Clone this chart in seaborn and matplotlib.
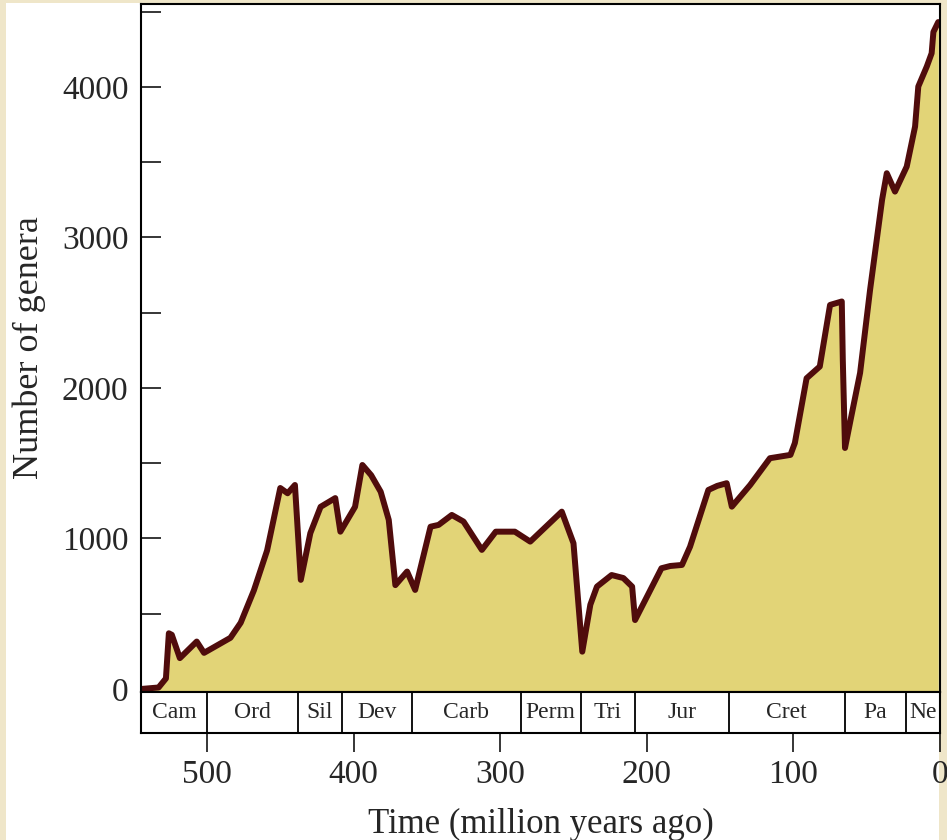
import matplotlib
matplotlib.use("Agg")
import matplotlib.pyplot as plt
from matplotlib.patches import Rectangle
from matplotlib.ticker import FixedLocator
import pandas as pd
import seaborn as sns

# genera through time
time_ma = [545, 533, 528, 526, 524, 518.5, 507, 502, 484, 477, 468, 459, 450, 445,
           440, 436, 429.5, 422.5, 412.5, 409, 399, 394, 388, 381.5, 376, 371.5,
           363.5, 358, 347.5, 342, 333, 325, 312.5, 303, 290, 279.5, 258, 250, 244,
           238.5, 234, 224, 216, 210, 208, 190, 184, 176, 170.5, 158, 152, 145.5,
           142, 129.5, 116, 102, 99, 91, 82, 75, 67, 66.3, 64.8, 61, 54.5, 47.7,
           39.5, 36.3, 30.7, 22.7, 17, 14.8, 9, 5.7, 4.5, 1.2]
genera = [0, 10, 70, 370, 360, 205, 315, 240, 340, 440, 655, 920, 1335, 1300,
          1355, 725, 1035, 1210, 1268, 1045, 1210, 1488, 1420, 1310, 1123, 690,
          780, 658, 1078, 1090, 1156, 1112, 924, 1045, 1045, 979, 1178, 968, 248,
          560, 680, 757, 737, 680, 458, 802, 817, 824, 945, 1322, 1349, 1367,
          1211, 1355, 1533, 1555, 1634, 2064, 2142, 2551, 2574, 2186, 1601, 1787,
          2100, 2651, 3250, 3426, 3304, 3470, 3736, 4002, 4135, 4223, 4364, 4430]

period_names = ["Cam", "Ord", "Sil", "Dev", "Carb", "Perm", "Tri", "Jur", "Cret", "Pa", "Ne"]
period_bounds = [545, 500, 438, 408, 360, 286, 245, 208, 144, 65, 23, 0]
x_ticks = [500, 400, 300, 200, 100, 0]
y_major = [0, 1000, 2000, 3000, 4000]
y_minor = [500, 1500, 2500, 3500, 4500]

FILL = "#e2d477"
LINE = "#500c0c"
W, H = 947, 840

sns.set_theme(style="white")
plt.rcParams["font.family"] = ["Liberation Serif", "DejaVu Serif"]

df = pd.DataFrame({"time": time_ma, "genera": genera})

fig = plt.figure(figsize=(W / 100, H / 100), dpi=100, facecolor="#efe6c9")
fig.add_artist(Rectangle((6 / W, 0), (939 - 6) / W, (H - 3) / H, transform=fig.transFigure,
                         facecolor="white", edgecolor="none", zorder=-1))

ax = fig.add_axes([141 / W, 148 / H, 799 / W, 688 / H])
bax = fig.add_axes([141 / W, 107 / H, 799 / W, 41 / H])

ax.fill_between(df["time"], df["genera"], -20, color=FILL, lw=0)
sns.lineplot(data=df, x="time", y="genera", ax=ax, color=LINE, lw=4.3,
             sort=False, estimator=None)
ax.set_xlim(545, 0)
ax.set_ylim(-20, 4550)
ax.set_xticks([])
ax.set_xlabel("")
ax.yaxis.set_major_locator(FixedLocator(y_major))
ax.yaxis.set_minor_locator(FixedLocator(y_minor))
ax.tick_params(axis="y", which="both", left=True, direction="in", length=14.4,
               width=1.1, color="black", labelsize=24, pad=9)
ax.set_ylabel("Number of genera", fontsize=26)
ax.yaxis.set_label_coords(-0.14, 0.5)
ax.yaxis.label.set_va("center")
for s in ax.spines.values():
    s.set_color("black")
    s.set_linewidth(1.5)

# geological period band
bax.set_xlim(545, 0)
bax.set_ylim(0, 1)
bax.set_yticks([])
for b in period_bounds[1:-1]:
    bax.axvline(b, color="black", lw=1.3)
for name, a, b in zip(period_names, period_bounds[:-1], period_bounds[1:]):
    bax.text((a + b) / 2, 0.5, name, ha="center", va="center", fontsize=17)
bax.set_xticks(x_ticks)
bax.tick_params(axis="x", bottom=True, direction="out", length=14, width=1.1,
                color="black", labelsize=24, pad=5)
for s in bax.spines.values():
    s.set_color("black")
    s.set_linewidth(1.5)
bax.set_xlabel("Time (million years ago)", fontsize=25)
bax.xaxis.set_label_coords(0.5, -2.44)
bax.xaxis.label.set_va("baseline")

fig.savefig("out.png", dpi=100, facecolor=fig.get_facecolor())
